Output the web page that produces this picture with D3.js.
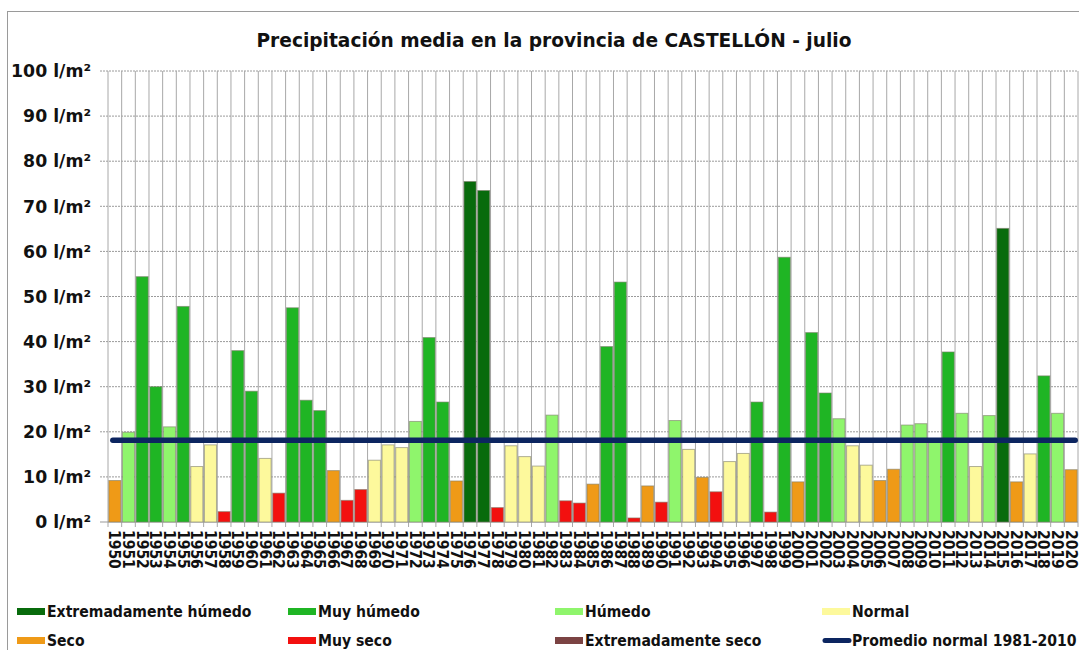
<!DOCTYPE html>
<html>
<head>
<meta charset="utf-8">
<script src="https://cdn.jsdelivr.net/npm/d3@7"></script>
<style>
  body { margin: 0; background: #fff; }
  svg text { font-family: "DejaVu Sans", Verdana, sans-serif; font-weight: bold; fill: #111; }
</style>
</head>
<body>
<div id="chart"></div>
<script>
// July precipitation, Castellón province (l/m²)
const years = d3.range(1950, 2021);
const values = [
  9.2, 19.9, 54.4, 30.0, 21.1, 47.8, 12.3, 17.1, 2.3, 38.0,
  29.0, 14.1, 6.4, 47.5, 27.0, 24.7, 11.4, 4.8, 7.2, 13.7,
  17.1, 16.5, 22.3, 40.9, 26.6, 9.1, 75.5, 73.5, 3.2, 16.9,
  14.5, 12.4, 23.7, 4.7, 4.2, 8.4, 38.9, 53.2, 0.9, 8.0,
  4.4, 22.5, 16.1, 9.9, 6.7, 13.4, 15.2, 26.6, 2.2, 58.7,
  8.9, 42.0, 28.6, 22.9, 16.9, 12.6, 9.2, 11.7, 21.5, 21.8,
  18.4, 37.7, 24.1, 12.3, 23.6, 65.1, 8.9, 15.1, 32.4, 24.1,
  11.6
];
// EH = extremadamente húmedo, MH = muy húmedo, H = húmedo, N = normal, S = seco, MS = muy seco
const classes = [
  "S","H","MH","MH","H","MH","N","N","MS","MH",
  "MH","N","MS","MH","MH","MH","S","MS","MS","N",
  "N","N","H","MH","MH","S","EH","EH","MS","N",
  "N","N","H","MS","MS","S","MH","MH","MS","S",
  "MS","H","N","S","MS","N","N","MH","MS","MH",
  "S","MH","MH","H","N","N","S","S","H","H",
  "H","MH","H","N","H","EH","S","N","MH","H",
  "S"
];
const normal = 18.1;
const yTicks = [0, 10, 20, 30, 40, 50, 60, 70, 80, 90, 100];

const legendKeys = ["EH", "MH", "H", "N", "S", "MS", "ES", "avg"];
const legendNames = ["Extremadamente húmedo", "Muy húmedo", "Húmedo", "Normal",
                     "Seco", "Muy seco", "Extremadamente seco", "Promedio normal 1981-2010"];
const colors = {
  EH: "#086b0c", MH: "#1fb524", H: "#8ff56c", N: "#fdf99c",
  S: "#ef9a17", MS: "#f3100f", ES: "#7b4343", avg: "#0c2560"
};

const W = 1079, H = 650;
const plot = { left: 108, right: 1078, top: 71, bottom: 522 };

const svg = d3.select("#chart").append("svg")
  .attr("width", W).attr("height", H);

const defs = svg.append("defs");
defs.append("filter").attr("id", "blur")
  .attr("x", "-5%").attr("y", "-200%").attr("width", "110%").attr("height", "500%")
  .append("feGaussianBlur").attr("stdDeviation", 2);

// outer frame
svg.append("rect")
  .attr("x", 7.5).attr("y", 11.5).attr("width", W).attr("height", H)
  .attr("fill", "none").attr("stroke", "#9a9a9a");

const x = d3.scaleBand()
  .domain(years)
  .range([plot.left, plot.right])
  .paddingInner(0.12).paddingOuter(0.06);

const y = d3.scaleLinear()
  .domain([0, 100])
  .range([plot.bottom, plot.top]);

const gap = (x.step() - x.bandwidth()) / 2;

// horizontal dashed grid
svg.append("g").selectAll("line")
  .data(yTicks.filter(d => d > 0))
  .enter().append("line")
  .attr("x1", plot.left - 8).attr("x2", plot.right)
  .attr("y1", d => y(d)).attr("y2", d => y(d))
  .attr("stroke", "#9a9a9a").attr("stroke-dasharray", "2,1");

// vertical grid between years
const bounds = years.map(d => x(d) - gap).concat([x(2020) + x.bandwidth() + gap]);
svg.append("g").selectAll("line")
  .data(bounds)
  .enter().append("line")
  .attr("x1", d => d).attr("x2", d => d)
  .attr("y1", plot.top).attr("y2", plot.bottom + 5)
  .attr("stroke", "#a8a8a8");

// baseline
svg.append("line")
  .attr("x1", plot.left - 8).attr("x2", plot.right)
  .attr("y1", y(0)).attr("y2", y(0))
  .attr("stroke", "#999");

// y labels
svg.append("g").selectAll("text")
  .data(yTicks)
  .enter().append("text")
  .attr("x", 91).attr("y", d => y(d))
  .attr("dy", "0.36em")
  .attr("text-anchor", "end")
  .style("font-size", "17.3px")
  .text(d => d + " l/m²");

// bars
svg.append("g").selectAll("rect")
  .data(years)
  .enter().append("rect")
  .attr("x", d => x(d))
  .attr("y", (d, i) => y(values[i]))
  .attr("width", x.bandwidth())
  .attr("height", (d, i) => y(0) - y(values[i]))
  .attr("fill", (d, i) => colors[classes[i]])
  .attr("stroke", "#7d7d6a").attr("stroke-opacity", 0.6);

// year labels, rotated
svg.append("g").selectAll("text")
  .data(years)
  .enter().append("text")
  .attr("transform", d => "translate(" + (x(d) + x.bandwidth() / 2) + "," + 530 + ") rotate(90)")
  .attr("dy", "0.36em")
  .style("font-family", "'DejaVu Sans Condensed', 'DejaVu Sans', sans-serif")
  .style("font-size", "15.5px")
  .text(d => d);

// normal line with soft shadow
const xa = x(1950) + 4, xb = x(2020) + x.bandwidth() - 2;
svg.append("line")
  .attr("x1", xa).attr("x2", xb)
  .attr("y1", y(normal) - 4).attr("y2", y(normal) - 4)
  .attr("stroke", "#8a8a8a").attr("stroke-width", 9).attr("opacity", 0.6)
  .attr("filter", "url(#blur)");
svg.append("line")
  .attr("x1", xa).attr("x2", xb)
  .attr("y1", y(normal)).attr("y2", y(normal))
  .attr("stroke", colors.avg).attr("stroke-width", 5.5)
  .attr("stroke-linecap", "round");

// title
svg.append("text")
  .attr("x", 554).attr("y", 47)
  .attr("text-anchor", "middle")
  .style("font-size", "18.6px")
  .text("Precipitación media en la provincia de CASTELLÓN - julio");

// legend
const legX = [17, 288, 555, 822];
const legY = [611, 640];
const legend = svg.append("g").selectAll("g")
  .data(legendKeys)
  .enter().append("g")
  .attr("transform", (d, i) => "translate(" + legX[i % 4] + "," + legY[Math.floor(i / 4)] + ")");

legend.filter(d => d !== "avg").append("rect")
  .attr("x", 0).attr("y", -3).attr("width", 28).attr("height", 7)
  .attr("fill", d => colors[d]);
legend.filter(d => d === "avg").append("line")
  .attr("x1", 3).attr("x2", 27).attr("y1", 0.5).attr("y2", 0.5)
  .attr("stroke", colors.avg).attr("stroke-width", 5)
  .attr("stroke-linecap", "round");

legend.append("text")
  .attr("x", 30).attr("y", 0)
  .attr("dy", "0.38em")
  .style("font-family", "'DejaVu Sans Condensed', 'DejaVu Sans', sans-serif")
  .style("font-size", "15.6px")
  .text((d, i) => legendNames[i]);
</script>
</body>
</html>
